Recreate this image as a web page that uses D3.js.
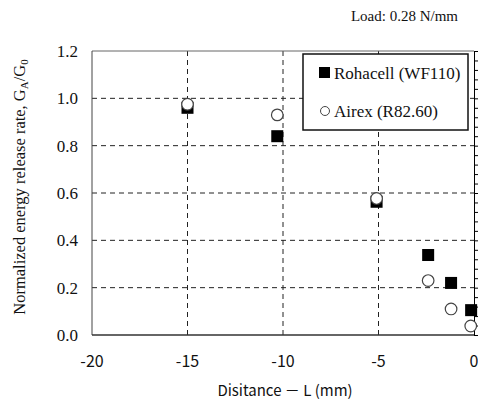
<!DOCTYPE html>
<html lang="en">
  <head>
    <meta charset="utf-8">
    <title>Normalized energy release rate</title>
    <script src="https://cdn.jsdelivr.net/npm/d3@7"></script>
    <style>
      body { margin: 0; background: #fff; }
    </style>
  </head>
  <body>
    <div id="container"></div>
    <script>
      width = 478;
      height = 401;
      margin = ({top: 51, right: 4, bottom: 66, left: 92});

      // Rohacell (WF110) - filled squares
      rohacellX = [-15, -10.3, -5.1, -2.4, -1.2, -0.15];
      rohacellY = [0.96, 0.84, 0.563, 0.338, 0.22, 0.105];
      // Airex (R82.60) - open circles
      airexX = [-15, -10.3, -5.1, -2.4, -1.2, -0.17];
      airexY = [0.975, 0.93, 0.577, 0.23, 0.11, 0.038];

      xTicks = [-20, -15, -10, -5, 0];
      yTicks = [0, 0.2, 0.4, 0.6, 0.8, 1.0, 1.2];
      legendLabels = ["Rohacell (WF110)", "Airex (R82.60)"];

      x = d3.scaleLinear().domain([-20, 0]).range([margin.left, width - margin.right]);
      y = d3.scaleLinear().domain([0, 1.2]).range([height - margin.bottom, margin.top]);

      chart = (function(){
        const svg = d3.create("svg")
            .attr("width", width)
            .attr("height", height)
            .attr("viewBox", [0, 0, width, height]);

        const serif = "'Liberation Serif', 'DejaVu Serif', serif";
        const sans = "'Noto Sans CJK JP', 'DejaVu Sans', sans-serif";

        // dashed grid
        svg.append("g")
            .attr("stroke", "#222")
            .attr("stroke-dasharray", "5,4")
          .selectAll("line")
          .data(xTicks.filter(d => d > -20 && d < 0))
          .join("line")
            .attr("x1", d => x(d)).attr("x2", d => x(d))
            .attr("y1", y(0)).attr("y2", y(1.2));

        svg.append("g")
            .attr("stroke", "#222")
            .attr("stroke-dasharray", "5,4")
          .selectAll("line")
          .data(yTicks.filter(d => d > 0 && d < 1.2))
          .join("line")
            .attr("x1", x(-20)).attr("x2", x(0))
            .attr("y1", d => y(d)).attr("y2", d => y(d));

        // frame
        svg.append("line").attr("x1", x(-20)).attr("x2", x(0)).attr("y1", y(1.2)).attr("y2", y(1.2)).attr("stroke", "#666");
        svg.append("line").attr("x1", x(-20)).attr("x2", x(-20)).attr("y1", y(0)).attr("y2", y(1.2)).attr("stroke", "#444");
        svg.append("line").attr("x1", x(-20)).attr("x2", x(0)).attr("y1", y(0)).attr("y2", y(0)).attr("stroke", "#333").attr("stroke-width", 1.5);

        // right axis with small outward ticks (every 0.04)
        svg.append("g")
            .attr("transform", `translate(${x(0)},0)`)
            .call(d3.axisRight(y).tickValues(d3.range(0, 1.2001, 0.04)).tickSize(4).tickFormat(""))
            .call(g => g.selectAll("line, path").attr("stroke", "#000"));

        // y tick labels
        svg.append("g")
            .attr("font-family", serif)
            .attr("font-size", 17)
            .attr("fill", "#111")
            .attr("text-anchor", "end")
          .selectAll("text")
          .data(yTicks)
          .join("text")
            .attr("x", x(-20) - 14)
            .attr("y", d => y(d))
            .attr("dy", "0.35em")
            .text(d => d3.format(".1f")(d));

        // x tick labels
        svg.append("g")
            .attr("font-family", sans)
            .attr("font-size", 16)
            .attr("fill", "#111")
            .attr("text-anchor", "middle")
          .selectAll("text")
          .data(xTicks)
          .join("text")
            .attr("x", d => x(d))
            .attr("y", y(0) + 32)
            .text(d => d);

        // points
        svg.append("g")
            .attr("fill", "#000")
          .selectAll("rect")
          .data(rohacellX.map((d, i) => [d, rohacellY[i]]))
          .join("rect")
            .attr("x", d => x(d[0]) - 6)
            .attr("y", d => y(d[1]) - 6)
            .attr("width", 12)
            .attr("height", 12);

        svg.append("g")
            .attr("fill", "#fff")
            .attr("stroke", "#444")
            .attr("stroke-width", 1.2)
          .selectAll("circle")
          .data(airexX.map((d, i) => [d, airexY[i]]))
          .join("circle")
            .attr("cx", d => x(d[0]))
            .attr("cy", d => y(d[1]))
            .attr("r", 5.8);

        // legend
        const lg = svg.append("g");
        lg.append("rect")
            .attr("x", 303).attr("y", 54)
            .attr("width", 165).attr("height", 76)
            .attr("fill", "#fff")
            .attr("stroke", "#111")
            .attr("stroke-width", 1.5);
        lg.append("rect").attr("x", 319).attr("y", 67).attr("width", 11).attr("height", 11).attr("fill", "#000");
        lg.append("circle").attr("cx", 325).attr("cy", 111).attr("r", 4.5).attr("fill", "#fff").attr("stroke", "#444");
        lg.selectAll("text")
          .data(legendLabels)
          .join("text")
            .attr("x", 334)
            .attr("y", (d, i) => 79 + i * 38)
            .attr("font-family", serif)
            .attr("font-size", 17)
            .attr("fill", "#111")
            .text(d => d);

        // y axis title
        const yt = svg.append("text")
            .attr("transform", `translate(25,${(y(0) + y(1.2)) / 2 - 6}) rotate(-90)`)
            .attr("text-anchor", "middle")
            .attr("font-family", serif)
            .attr("font-size", 16.5)
            .attr("fill", "#111");
        yt.append("tspan").text("Normalized energy release rate, G");
        yt.append("tspan").attr("font-size", 11).attr("dy", 3).text("A");
        yt.append("tspan").attr("dy", -3).text("/G");
        yt.append("tspan").attr("font-size", 11).attr("dy", 3).text("0");

        // x axis title
        svg.append("text")
            .attr("x", 285)
            .attr("y", 396)
            .attr("text-anchor", "middle")
            .attr("font-family", sans)
            .attr("font-size", 15)
            .attr("fill", "#111")
            .text("Disitance － L (mm)");

        // load annotation
        svg.append("text")
            .attr("x", 458)
            .attr("y", 21)
            .attr("text-anchor", "end")
            .attr("font-family", serif)
            .attr("font-size", 15)
            .attr("fill", "#111")
            .text("Load: 0.28 N/mm");

        return svg.node();
      })();

      d3.select('#container').append(() => chart);
    </script>
  </body>
</html>
